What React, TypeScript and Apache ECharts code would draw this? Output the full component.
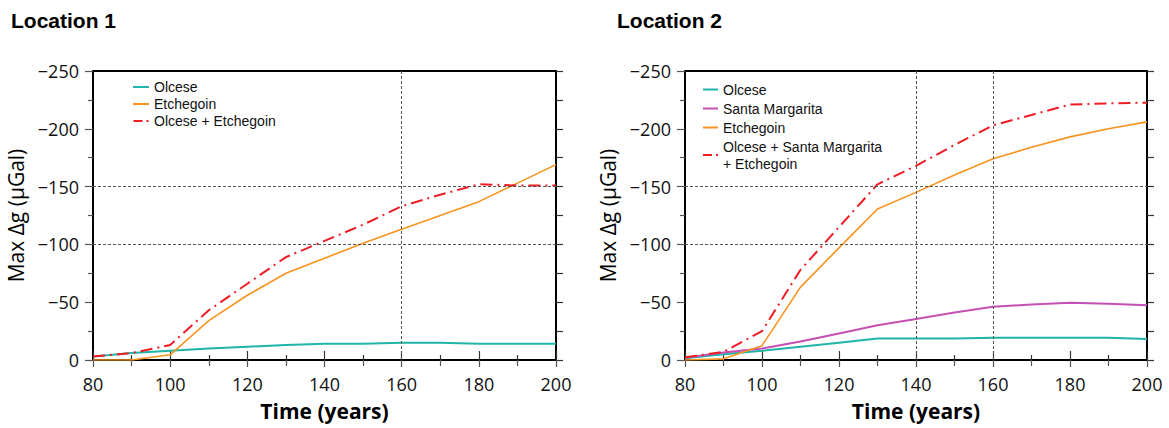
import React, { useEffect, useRef } from "react";
import * as echarts from "echarts";

const years = [80, 90, 100, 110, 120, 130, 140, 150, 160, 170, 180, 190, 200];

// Location 1
const olcese1 = [-3, -6, -8, -10, -11.5, -13, -14, -14, -15, -15, -14, -14, -14];
const etchegoin1 = [0, 0, -4.5, -34, -56, -75, -88, -101, -113, -125, -137, -153, -169];
const combined1 = [-3, -6, -13, -43, -66, -89, -103, -117, -133, -143, -152, -151, -151];

// Location 2
const olcese2 = [-1.5, -5, -8, -11.5, -15, -18.5, -18.5, -18.5, -19.3, -19.3, -19.3, -19.3, -18.2];
const santaMargarita2 = [-2, -6.5, -10, -16, -23, -30, -35.5, -41, -46, -48, -49.6, -48.7, -47.3];
const etchegoin2 = [0, -1, -12.4, -63, -97, -130.6, -145, -160, -174, -184, -193, -200, -206];
const combined2 = [-2.3, -7, -25, -78, -115, -152, -168, -186, -203, -212, -221, -222, -222.6];

const yTickLabels = [0, -50, -100, -150, -200, -250];
const titles = ["Location 1", "Location 2"];
const grid1Lines = { x: [160], y: [-100, -150] };
const grid2Lines = { x: [140, 160], y: [-100, -150] };

const TEAL = "#1fb5a8";
const ORANGE = "#f7931e";
const RED = "#ee1c25";
const PURPLE = "#c54fb3";

const pairs = (vals: number[]) => years.map((y, i) => [y, vals[i]]);
const fmtY = (v: number) => (v === 0 ? "0" : "\u2212" + Math.abs(v));

export default function App() {
  const ref = useRef<HTMLDivElement>(null);
  useEffect(() => {
    document.body.style.margin = "0";
    const chart = echarts.init(ref.current!, null, { renderer: "svg" });
    const tickFont = { fontFamily: "Open Sans", fontSize: 18, color: "#111" };
    const grids = [
      { left: 93, top: 71, width: 463, height: 289 },
      { left: 685, top: 71, width: 462, height: 289 },
    ];
    const xAxes: any[] = [];
    const yAxes: any[] = [];
    grids.forEach((_, g) => {
      xAxes.push({
        type: "value", gridIndex: g, min: 80, max: 200, interval: 20, position: "bottom",
        axisLine: { show: false },
        axisTick: { show: true, length: 7, lineStyle: { color: "#555", width: 1.2 } },
        minorTick: { show: true, splitNumber: 2, length: 6, lineStyle: { color: "#555", width: 1.2 } },
        splitLine: { show: false },
        axisLabel: { ...tickFont, margin: 15 },
        name: "Time (years)", nameLocation: "middle", nameGap: 40,
        nameTextStyle: { fontFamily: "Open Sans", fontWeight: "bold", fontSize: 21, color: "#000" },
      });
      xAxes.push({
        type: "value", gridIndex: g, min: 80, max: 200, interval: 20, position: "top",
        axisLine: { show: false },
        axisTick: { show: true, length: 9, lineStyle: { color: "#333", width: 1.2 } },
        minorTick: { show: true, splitNumber: 2, length: 5, lineStyle: { color: "#333", width: 1.2 } },
        splitLine: { show: false },
        axisLabel: { show: false },
      });
      yAxes.push({
        type: "value", gridIndex: g, min: -250, max: 0, interval: 50, inverse: true, position: "left",
        axisLine: { show: false },
        axisTick: { show: true, length: 8, lineStyle: { color: "#555", width: 1.2 } },
        minorTick: { show: true, splitNumber: 2, length: 5, lineStyle: { color: "#555", width: 1.2 } },
        splitLine: { show: false },
        axisLabel: { ...tickFont, margin: 14, formatter: (v: number) => (yTickLabels.includes(v) ? fmtY(v) : "") },
        name: "Max \u0394g (\u03bcGal)", nameLocation: "middle", nameGap: 67, nameRotate: 90,
        nameTextStyle: { fontFamily: "Open Sans", fontSize: 21, color: "#000" },
      });
      yAxes.push({
        type: "value", gridIndex: g, min: -250, max: 0, interval: 25, inverse: true, position: "right",
        axisLine: { show: false },
        axisTick: { show: true, length: 7, lineStyle: { color: "#333", width: 1.2 } },
        splitLine: { show: false },
        axisLabel: { show: false },
      });
    });

    const gridMark = (lines: { x: number[]; y: number[] }) => ({
      silent: true,
      symbol: "none",
      label: { show: false },
      lineStyle: { type: [3, 2], color: "#555", width: 1 },
      data: [...lines.x.map((x) => ({ xAxis: x })), ...lines.y.map((y) => ({ yAxis: y }))],
    });

    const line = (name: string, data: number[], color: string, g: number, width: number, dash?: any, mark?: any) => ({
      type: "line", name, data: pairs(data), xAxisIndex: g * 2, yAxisIndex: g * 2,
      showSymbol: false, symbol: "none", color, itemStyle: { color },
      lineStyle: { color, width, type: dash || "solid" },
      markLine: mark, z: 3,
    });

    const dashDot = [12, 5, 2, 5];
    const c2name = "Olcese + Santa Margarita\n+ Etchegoin";
    const series = [
      line("Olcese", olcese1, TEAL, 0, 2, undefined, gridMark(grid1Lines)),
      line("Etchegoin", etchegoin1, ORANGE, 0, 1.6),
      line("Olcese + Etchegoin", combined1, RED, 0, 2, dashDot),
      line("Olcese", olcese2, TEAL, 1, 2, undefined, gridMark(grid2Lines)),
      line("Santa Margarita", santaMargarita2, PURPLE, 1, 2),
      line("Etchegoin", etchegoin2, ORANGE, 1, 1.6),
      line(c2name, combined2, RED, 1, 2, dashDot),
    ];

    const legendText = { fontFamily: "Liberation Sans", fontSize: 14, color: "#111" };
    const dashIcon = "path://M0,0H9V2H0Z M13,0H15V2H13Z";

    chart.setOption({
      animation: false,
      title: titles.map((t, i) => ({
        text: t, left: i === 0 ? 6 : 612, top: 5,
        textStyle: { fontFamily: "Liberation Sans", fontWeight: "bold", fontSize: 21, color: "#000" },
      })),
      legend: [
        {
          orient: "vertical", left: 128, top: 75, itemWidth: 16, itemHeight: 2, itemGap: 3,
          icon: "rect", textStyle: legendText, selectedMode: false,
          data: ["Olcese", "Etchegoin", { name: "Olcese + Etchegoin", icon: dashIcon }],
        },
        {
          orient: "vertical", left: 698, top: 76, itemWidth: 15, itemHeight: 2, itemGap: 2,
          icon: "rect", textStyle: { ...legendText, lineHeight: 17 }, selectedMode: false,
          data: ["Olcese", "Santa Margarita", "Etchegoin", { name: c2name, icon: dashIcon }],
        },
      ],
      grid: grids.map((g) => ({ ...g, show: true, borderColor: "#000", borderWidth: 2, backgroundColor: "transparent" })),
      xAxis: xAxes,
      yAxis: yAxes,
      series,
    });
    return () => chart.dispose();
  }, []);
  return <div ref={ref} style={{ width: 1169, height: 428 }} />;
}
